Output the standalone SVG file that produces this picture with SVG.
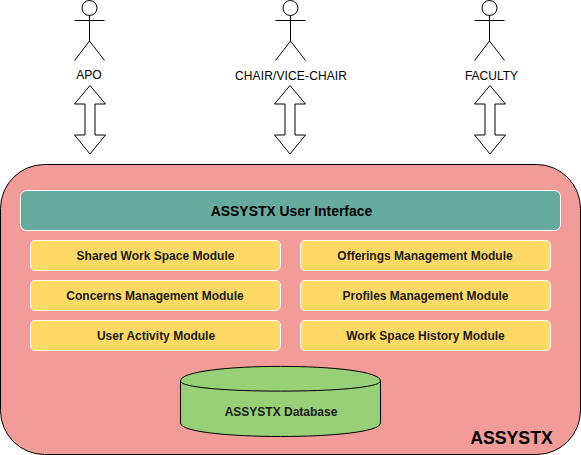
<svg xmlns="http://www.w3.org/2000/svg" width="581" height="455" viewBox="0 0 581 455">
<style>
text{font-family:"Liberation Sans",Arial,sans-serif;text-anchor:middle;fill:#000}
.m{font-size:12px;font-weight:bold;fill:#1a1a1a}
.mod{fill:#ffd966;stroke:#fff;stroke-width:1}
.act{fill:none;stroke:#000;stroke-width:1}
.lab{font-size:12px}
.arr{fill:#fff;stroke:#000;stroke-width:1}
</style>
<defs>
<g id="actor"><circle cx="0" cy="8" r="7.500" fill="#fff" stroke="#000"/><path class="act" d="M0 15.500V41M-15 20.500H15M-15 60.500L0 41L15 60.500"/></g>
<path id="dbl" class="arr" d="M0 85.500L15.500 104H5V135H15.500L0 154L-15.500 135H-5V104H-15.500Z"/>
</defs>
<g id="connectors">
<use href="#dbl" x="90"/>
<use href="#dbl" x="290"/>
<use href="#dbl" x="490"/>
</g>
<g id="actor-apo"><use href="#actor" x="89.500"/><text class="lab" x="89" y="79">APO</text></g>
<g id="actor-chair"><use href="#actor" x="290.500"/><text class="lab" x="291" y="80" textLength="112">CHAIR/VICE-CHAIR</text></g>
<g id="actor-faculty"><use href="#actor" x="489.500"/><text class="lab" x="491.500" y="80">FACULTY</text></g>
<g id="assystx"><rect x="0.500" y="164.500" width="580" height="290" rx="44" fill="#f19c99" stroke="#000"/><text x="511.500" y="444" font-size="17.700" font-weight="bold">ASSYSTX</text></g>
<g id="ui"><rect x="20.500" y="190.500" width="540" height="40" rx="6" fill="#67ab9f" stroke="#fff"/><text x="291.500" y="216" font-size="13.900" font-weight="bold">ASSYSTX User Interface</text></g>
<g id="m1"><rect class="mod" x="30.500" y="240.500" width="250" height="30" rx="4.500"/><text class="m" x="155.500" y="260">Shared Work Space Module</text></g>
<g id="m2"><rect class="mod" x="30.500" y="280.500" width="250" height="30" rx="4.500"/><text class="m" x="155" y="300">Concerns Management Module</text></g>
<g id="m3"><rect class="mod" x="30.500" y="320.500" width="250" height="30" rx="4.500"/><text class="m" x="156" y="340">User Activity Module</text></g>
<g id="m4"><rect class="mod" x="300.500" y="240.500" width="250" height="30" rx="4.500"/><text class="m" x="425" y="260">Offerings Management Module</text></g>
<g id="m5"><rect class="mod" x="300.500" y="280.500" width="250" height="30" rx="4.500"/><text class="m" x="425.500" y="300">Profiles Management Module</text></g>
<g id="m6"><rect class="mod" x="300.500" y="320.500" width="250" height="30" rx="4.500"/><text class="m" x="425.500" y="340">Work Space History Module</text></g>
<g id="db"><path d="M180.500 381C180.500 361.500 380.500 361.500 380.500 381V423C380.500 441 180.500 441 180.500 423Z" fill="#97d077" stroke="#000"/><path d="M180.500 381C180.500 394.500 380.500 394.500 380.500 381" fill="none" stroke="#000"/><text class="m" x="281" y="416">ASSYSTX Database</text></g>
</svg>
